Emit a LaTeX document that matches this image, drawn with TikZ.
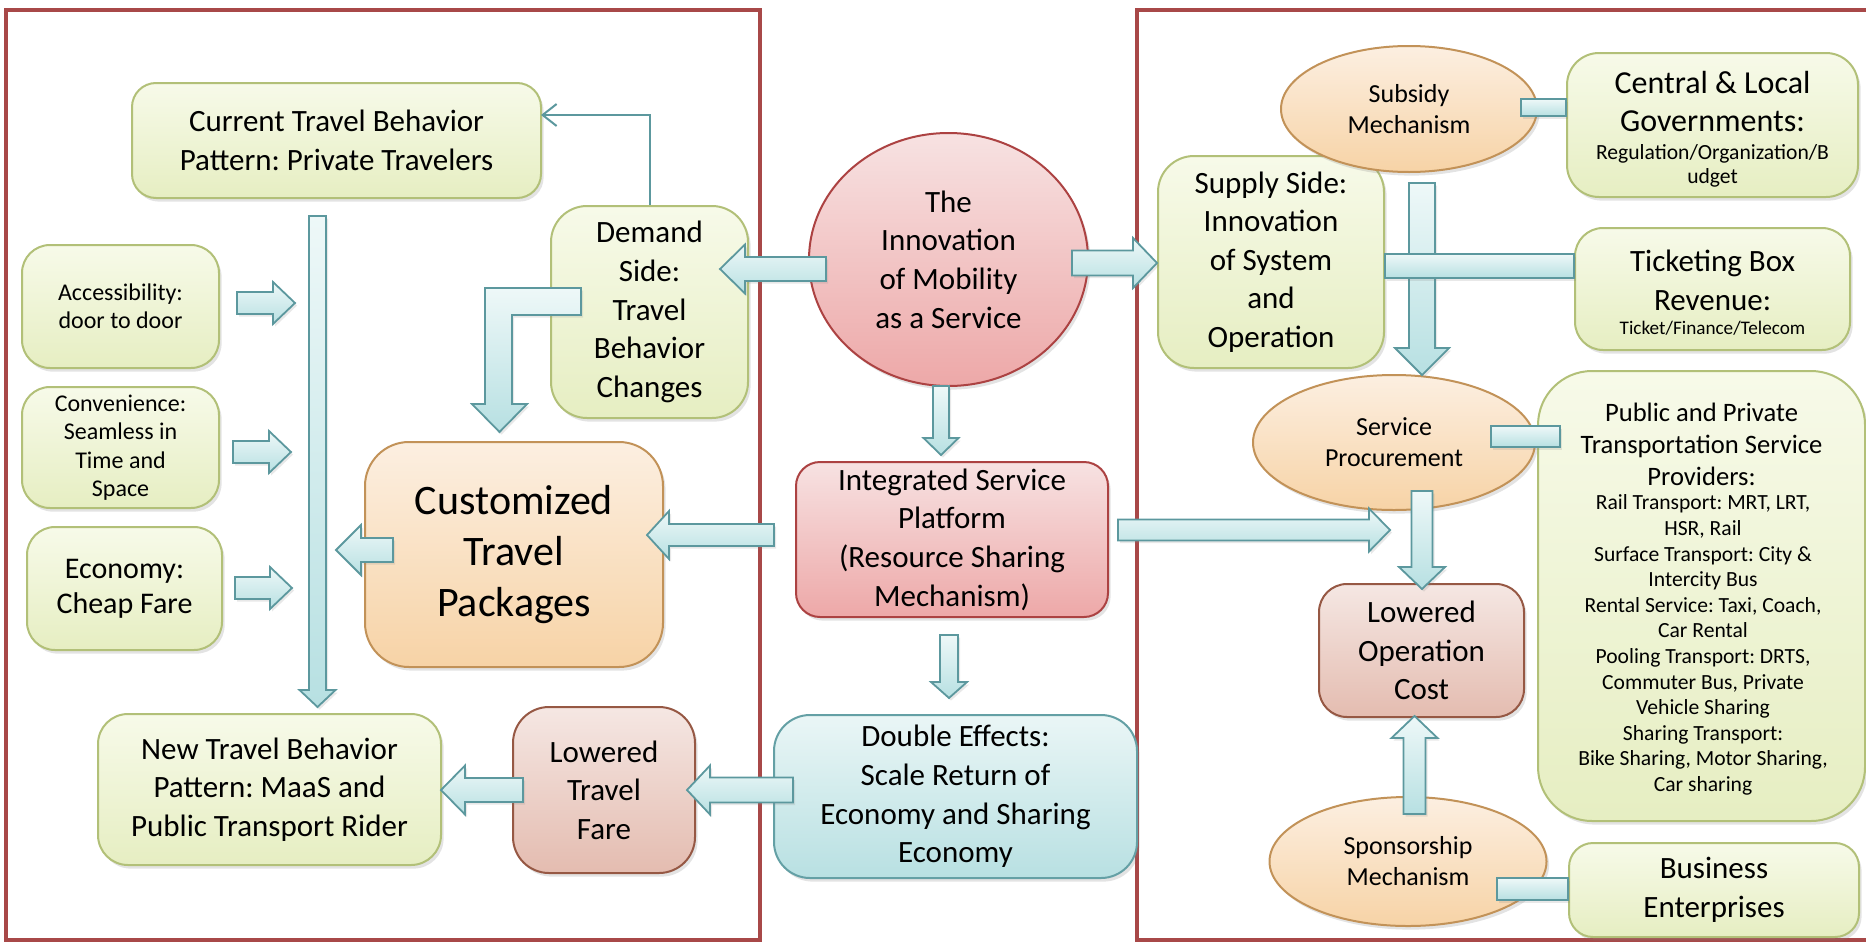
\documentclass[tikz,border=0pt]{standalone}
\usepackage{fontspec}
\setmainfont{Carlito}
\frenchspacing
\usetikzlibrary{shapes.geometric,shadows,arrows.meta,calc}

\definecolor{frameRed}{RGB}{168,72,72}
\definecolor{gTop}{RGB}{247,250,233}
\definecolor{gBot}{RGB}{230,238,194}
\definecolor{gBd}{RGB}{178,192,120}
\definecolor{oTop}{RGB}{252,239,225}
\definecolor{oBot}{RGB}{247,211,166}
\definecolor{oBd}{RGB}{194,146,88}
\definecolor{pTop}{RGB}{247,226,226}
\definecolor{pBot}{RGB}{237,168,168}
\definecolor{pBd}{RGB}{172,66,66}
\definecolor{bTop}{RGB}{245,231,227}
\definecolor{bBot}{RGB}{228,188,176}
\definecolor{bBd}{RGB}{150,88,68}
\definecolor{tTop}{RGB}{234,246,246}
\definecolor{tBot}{RGB}{184,224,226}
\definecolor{tBd}{RGB}{100,160,165}
\definecolor{aTop}{RGB}{238,248,248}
\definecolor{aBot}{RGB}{183,224,226}
\definecolor{aBd}{RGB}{92,152,158}

\newcommand\fbig{\fontsize{15.5}{19.3}\selectfont}
\newcommand\fecon{\fontsize{15}{17.5}\selectfont}
\newcommand\fmed{\fontsize{13}{15.5}\selectfont}
\newcommand\fsml{\fontsize{12}{14.2}\selectfont}
\newcommand\ftiny{\fontsize{10.8}{12}\selectfont}
\newcommand\fticket{\fontsize{9.6}{11}\selectfont}
\newcommand\fhuge{\fontsize{21}{25.7}\selectfont}
\newcommand\fcentral{\fontsize{16}{19}\selectfont}
\newcommand\fpub{\fontsize{13.3}{16}\selectfont}
\newcommand\flist{\fontsize{10.8}{12.8}\selectfont}

\tikzset{
  shadowed/.style={drop shadow={shadow xshift=1.3pt,shadow yshift=-1.8pt,opacity=0.22}},
  box/.style={rectangle, rounded corners=#1, line width=1pt, inner sep=0pt, align=center, shadowed},
  gbox/.style={box=#1, draw=gBd, top color=gTop, bottom color=gBot},
  obox/.style={box=#1, draw=oBd, top color=oTop, bottom color=oBot},
  pbox/.style={box=#1, draw=pBd, top color=pTop, bottom color=pBot},
  bbox/.style={box=#1, draw=bBd, top color=bTop, bottom color=bBot},
  tbox/.style={box=#1, draw=tBd, top color=tTop, bottom color=tBot},
  ell/.style={ellipse, line width=1pt, inner sep=0pt, align=center, shadowed},
  oellipse/.style={ell, draw=oBd, top color=oTop, bottom color=oBot},
  pellipse/.style={ell, draw=pBd, top color=pTop, bottom color=pBot},
  frame/.style={draw=frameRed, line width=2pt},
  barrow/.style={draw=aBd, line width=0.9pt, top color=aTop, bottom color=aBot,
     drop shadow={shadow xshift=1pt,shadow yshift=-1.3pt,opacity=0.18}},
  thinarr/.style={draw=aBd, line width=1pt, -{Straight Barb[length=7pt,width=11pt]}},
  label/.style={align=center, inner sep=0pt}
}

% block arrow: from, to, shaft half-width, head half-width, head length (pixels)
\newcommand\blockarrow[5]{%
  \draw[barrow] let \p1=(#1), \p2=(#2),
      \n1={veclen(\x2-\x1,\y2-\y1)}, \n2={atan2(\y2-\y1,\x2-\x1)} in
    [shift={(\x1,\y1)}, rotate=\n2]
    (0pt,{-#3*0.5pt}) -- ({\n1-#5*0.5pt},{-#3*0.5pt}) -- ({\n1-#5*0.5pt},{-#4*0.5pt})
    -- ({\n1+0pt},0pt) -- ({\n1-#5*0.5pt},{#4*0.5pt}) -- ({\n1-#5*0.5pt},{#3*0.5pt})
    -- (0pt,{#3*0.5pt}) -- cycle;}

\begin{document}
\begin{tikzpicture}[x=0.5pt,y=-0.5pt]
\useasboundingbox (0,0) rectangle (1866,942);

% frames
\draw[frame] (6,10) rectangle (760,940);
\draw[frame] (1137,10) rectangle (1890,940);

% left panel
\node[gbox=12pt, minimum width=204.5pt, minimum height=57.5pt, font=\fbig] (current) at (336.5,140.5) {Current Travel Behavior\\Pattern: Private Travelers};
\node[gbox=18pt, minimum width=98.5pt, minimum height=106pt, font=\fbig] (demand) at (649.5,312) {Demand\\Side:\\Travel\\Behavior\\Changes};
\node[gbox=14pt, minimum width=98.5pt, minimum height=61.5pt, font=\fsml] (access) at (120.5,306.5) {Accessibility:\\door to door};
\node[gbox=14pt, minimum width=98.5pt, minimum height=60.5pt, font=\fsml] (conv) at (120.5,447.5) {Convenience:\\Seamless in\\Time and\\Space};
\node[gbox=14pt, minimum width=97.5pt, minimum height=61.5pt, font=\fecon] (econ) at (124.5,588.5) {Economy:\\Cheap Fare};
\node[obox=22pt, minimum width=149pt, minimum height=112.5pt, font=\fhuge] (custom) at (514,554.5) {Customized\\Travel\\Packages};
\node[gbox=15pt, minimum width=171.5pt, minimum height=75.5pt, font=\fbig] (newtb) at (269.5,789.5) {New Travel Behavior\\Pattern: MaaS and\\Public Transport Rider};
\node[bbox=18pt, minimum width=91pt, minimum height=83pt, font=\fbig] (lowfare) at (604,790) {Lowered\\Travel\\Fare};

% centre column
\node[pellipse, minimum width=139.5pt, minimum height=126.5pt, font=\fbig] (innov) at (948.5,259.5) {The\\Innovation\\of Mobility\\as a Service};
\node[pbox=12pt, minimum width=156pt, minimum height=77.5pt, font=\fbig] (integ) at (952,539.5) {Integrated Service\\Platform\\(Resource Sharing\\Mechanism)};
\node[tbox=18pt, minimum width=181.5pt, minimum height=81.5pt, font=\fbig] (double) at (955.5,796.5) {Double Effects:\\Scale Return of\\Economy and Sharing\\Economy};

% right panel
\node[gbox=18pt, minimum width=113pt, minimum height=106pt, font=\fbig] (supply) at (1271,262) {Supply Side:\\Innovation\\of System\\and\\Operation};
\node[oellipse, minimum width=128pt, minimum height=63pt, font=\fmed] (subsidy) at (1409,109) {Subsidy\\Mechanism};
\node[gbox=16pt, minimum width=145.5pt, minimum height=72pt] (central) at (1712.5,125) {};
\node[label, font=\fcentral] (centralhead) at (1712.5,102) {Central \& Local\\Governments:};
\node[label, font=\ftiny] (centralsub) at (1712.5,166) {Regulation/Organization/B\\udget};
\node[gbox=14pt, minimum width=137.5pt, minimum height=61pt] (ticket) at (1712.5,289) {};
\node[label, font=\fbig] (tickethead) at (1712.5,280.5) {Ticketing Box\\Revenue:};
\node[label, font=\fticket] (ticketsub) at (1712.5,328) {Ticket/Finance/Telecom};
\node[oellipse, minimum width=141pt, minimum height=67.5pt, font=\fmed] (service) at (1394,442.5) {Service\\Procurement};
\node[gbox=27pt, minimum width=163.5pt, minimum height=225pt] (public) at (1701.5,596) {};
\node[label, font=\fpub] (publichead) at (1701.5,444) {Public and Private\\Transportation Service\\Providers:};
\node[label, font=\flist] (publist) at (1703,645) {Rail Transport: MRT, LRT,\\HSR, Rail\\Surface Transport: City \&\\Intercity Bus\\Rental Service: Taxi, Coach,\\Car Rental\\Pooling Transport: DRTS,\\Commuter Bus, Private\\Vehicle Sharing\\Sharing Transport:\\Bike Sharing, Motor Sharing,\\Car sharing};
\node[bbox=14pt, minimum width=102.5pt, minimum height=66.5pt, font=\fbig] (lowop) at (1421.5,650.5) {Lowered\\Operation\\Cost};
\node[oellipse, minimum width=138.5pt, minimum height=64.5pt, font=\fmed] (sponsor) at (1408,861.5) {Sponsorship\\Mechanism};
\node[gbox=12pt, minimum width=145pt, minimum height=47pt, font=\fbig] (business) at (1714,890) {Business\\Enterprises};

% arrow end points
\coordinate (curin) at (541,115);
\coordinate (a1s) at (826,269);   \coordinate (a1e) at (720,269);
\coordinate (a2s) at (1072,263);  \coordinate (a2e) at (1157,263);
\coordinate (a3s) at (941,386);   \coordinate (a3e) at (941,455);
\coordinate (a4s) at (949,635);   \coordinate (a4e) at (949,698);
\coordinate (a5s) at (774,535);   \coordinate (a5e) at (647,535);
\coordinate (a6s) at (393,550);   \coordinate (a6e) at (336,550);
\coordinate (a7s) at (237,303);   \coordinate (a7e) at (295,303);
\coordinate (a8s) at (233,452);   \coordinate (a8e) at (291,452);
\coordinate (a9s) at (235,588);   \coordinate (a9e) at (292,588);
\coordinate (barS) at (317.5,216); \coordinate (barE) at (317.5,707);
\coordinate (a11s) at (523,790);  \coordinate (a11e) at (441,790);
\coordinate (a12s) at (793,790);  \coordinate (a12e) at (687,790);
\coordinate (a13s) at (1118,530); \coordinate (a13e) at (1390,530);
\coordinate (a14s) at (1422,183); \coordinate (a14e) at (1422,375);
\coordinate (a15s) at (1422,491); \coordinate (a15e) at (1422,589);
\coordinate (a16s) at (1414.5,814); \coordinate (a16e) at (1414.5,716);
\coordinate (bendS) at (581,288); \coordinate (bendT) at (499.5,432);

% thin connector
\draw[thinarr] (demand.north) |- (curin);

% block arrows
\blockarrow{a1s}{a1e}{12}{24.5}{25}
\blockarrow{a2s}{a2e}{12.5}{25}{24}
\blockarrow{a3s}{a3e}{8}{17.5}{17}
\blockarrow{a4s}{a4e}{9}{18}{16}
\blockarrow{a5s}{a5e}{11}{24}{22}
\blockarrow{a6s}{a6e}{12}{25}{25}
\blockarrow{a7s}{a7e}{11}{21}{22}
\blockarrow{a8s}{a8e}{11}{21}{22}
\blockarrow{a9s}{a9e}{11}{21}{22}
\blockarrow{barS}{barE}{8.5}{18}{17}
\blockarrow{a11s}{a11e}{12}{24.5}{24}
\blockarrow{a12s}{a12e}{12.5}{24.5}{23}
\blockarrow{a13s}{a13e}{10.5}{21.5}{21}
\blockarrow{a14s}{a14e}{13}{27}{27}
\blockarrow{a15s}{a15e}{10.5}{23}{22}
\blockarrow{a16s}{a16e}{11}{23}{22}

% bent arrow from demand box to customized packages
\draw[barrow] (bendS) -- (485,288) -- (485,404) -- (472,404) -- (bendT)
  -- (527,404) -- (512,404) -- (512,315) -- (581,315) -- cycle;

% connecting bars
\draw[barrow] (subsidy.east |- 0,99) ++(-17,0) rectangle (central.west |- 0,116);
\draw[barrow] (supply.east |- 0,254) rectangle (ticket.west |- 0,278);
\draw[barrow] (1491,426) rectangle (1560,447);
\draw[barrow] (1497,878) rectangle (business.west |- 0,900);
\end{tikzpicture}
\end{document}
